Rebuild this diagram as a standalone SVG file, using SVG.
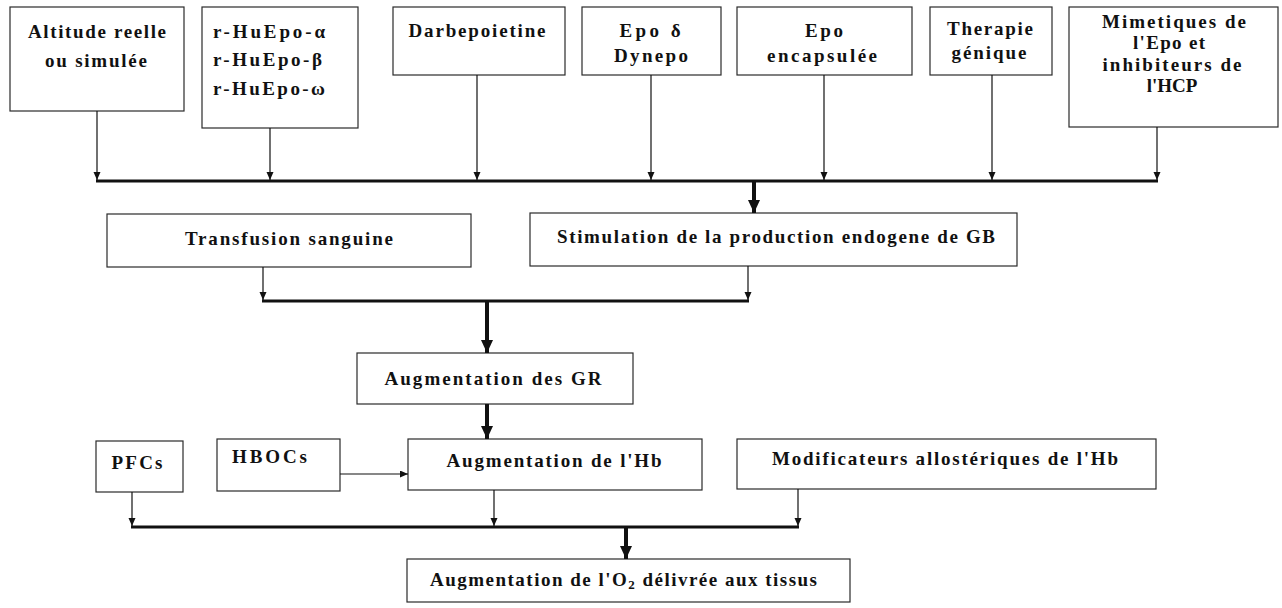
<svg xmlns="http://www.w3.org/2000/svg" width="1282" height="608" viewBox="0 0 1282 608">
  <style>
    .box { fill: #ffffff; stroke: #2a2a2a; stroke-width: 1.2; }
    .lbl { font-family: "Liberation Serif", "Times New Roman", serif; font-size: 19px; font-weight: bold; fill: #111111; }
    .mid { text-anchor: middle; }
    .thin { stroke: #111111; stroke-width: 1.2; fill: none; }
    .bus { stroke: #111111; stroke-width: 3.2; fill: none; }
    .thick { stroke: #111111; stroke-width: 4; fill: none; }
  </style>
  <defs>
    <marker id="headThin" markerUnits="userSpaceOnUse" markerWidth="9" markerHeight="8" refX="8" refY="3.5" orient="auto">
      <path d="M0,0 L8,3.5 L0,7 z" fill="#111111"/>
    </marker>
    <marker id="headThick" markerUnits="userSpaceOnUse" markerWidth="14" markerHeight="14" refX="13" refY="6" orient="auto">
      <path d="M0,0 L13,6 L0,12 z" fill="#111111"/>
    </marker>
  </defs>
  <rect width="1282" height="608" fill="#ffffff"/>

  <!-- upper row of sources -->
  <g id="altitude">
    <rect class="box" x="10" y="7" width="174" height="104"/>
    <text class="lbl mid" x="97" y="38" textLength="138" lengthAdjust="spacing">Altitude reelle</text>
    <text class="lbl mid" x="96" y="67" textLength="102" lengthAdjust="spacing">ou simulée</text>
  </g>
  <g id="rhuepo">
    <rect class="box" x="202" y="7" width="156" height="121"/>
    <text class="lbl" x="213" y="38" textLength="112" lengthAdjust="spacing">r-HuEpo-α</text>
    <text class="lbl" x="213" y="66" textLength="109" lengthAdjust="spacing">r-HuEpo-β</text>
    <text class="lbl" x="213" y="95" textLength="112" lengthAdjust="spacing">r-HuEpo-ω</text>
  </g>
  <g id="darbepoietine">
    <rect class="box" x="393" y="7" width="172" height="68"/>
    <text class="lbl mid" x="477" y="37" textLength="137" lengthAdjust="spacing">Darbepoietine</text>
  </g>
  <g id="dynepo">
    <rect class="box" x="582" y="7" width="139" height="68"/>
    <text class="lbl mid" x="650" y="37" textLength="61" lengthAdjust="spacing">Epo δ</text>
    <text class="lbl mid" x="651" y="62" textLength="74" lengthAdjust="spacing">Dynepo</text>
  </g>
  <g id="epo-encapsulee">
    <rect class="box" x="737" y="7" width="175" height="68"/>
    <text class="lbl mid" x="824" y="37" textLength="38" lengthAdjust="spacing">Epo</text>
    <text class="lbl mid" x="822" y="62" textLength="110" lengthAdjust="spacing">encapsulée</text>
  </g>
  <g id="therapie-genique">
    <rect class="box" x="930" y="7" width="122" height="68"/>
    <text class="lbl mid" x="990" y="35" textLength="86" lengthAdjust="spacing">Therapie</text>
    <text class="lbl mid" x="989" y="59" textLength="75" lengthAdjust="spacing">génique</text>
  </g>
  <g id="mimetiques">
    <rect class="box" x="1069" y="7" width="209" height="120"/>
    <text class="lbl mid" x="1174" y="28" textLength="144" lengthAdjust="spacing">Mimetiques de</text>
    <text class="lbl mid" x="1169" y="49" textLength="72" lengthAdjust="spacing">l'Epo et</text>
    <text class="lbl mid" x="1172" y="71" textLength="139" lengthAdjust="spacing">inhibiteurs de</text>
    <text class="lbl mid" x="1172" y="92">l'HCP</text>
  </g>

  <!-- second row -->
  <g id="transfusion">
    <rect class="box" x="107" y="214" width="364" height="53"/>
    <text class="lbl mid" x="289" y="245" textLength="208" lengthAdjust="spacing">Transfusion sanguine</text>
  </g>
  <g id="stimulation">
    <rect class="box" x="530" y="213" width="487" height="53"/>
    <text class="lbl mid" x="776" y="243" textLength="438" lengthAdjust="spacing">Stimulation de la production endogene de GB</text>
  </g>

  <g id="augmentation-gr">
    <rect class="box" x="357" y="353" width="276" height="51"/>
    <text class="lbl mid" x="493" y="385" textLength="217" lengthAdjust="spacing">Augmentation des GR</text>
  </g>

  <!-- third row -->
  <g id="pfcs">
    <rect class="box" x="96" y="441" width="87" height="51"/>
    <text class="lbl mid" x="137" y="469" textLength="51" lengthAdjust="spacing">PFCs</text>
  </g>
  <g id="hbocs">
    <rect class="box" x="217" y="439" width="123" height="52"/>
    <text class="lbl" x="232" y="463" textLength="75" lengthAdjust="spacing">HBOCs</text>
  </g>
  <g id="augmentation-hb">
    <rect class="box" x="408" y="439" width="294" height="51"/>
    <text class="lbl mid" x="554" y="467" textLength="215" lengthAdjust="spacing">Augmentation de l'Hb</text>
  </g>
  <g id="modificateurs">
    <rect class="box" x="737" y="439" width="419" height="50"/>
    <text class="lbl mid" x="945" y="465" textLength="346" lengthAdjust="spacing">Modificateurs allostériques de l'Hb</text>
  </g>

  <g id="augmentation-o2">
    <rect class="box" x="407" y="559" width="443" height="43"/>
    <text class="lbl" x="430" y="586" textLength="387" lengthAdjust="spacing">Augmentation de l'O<tspan font-size="13" dy="3">2</tspan><tspan dy="-3"> délivrée aux tissus</tspan></text>
  </g>

  <!-- connectors -->
  <g id="connectors">
    <!-- top collector -->
    <line class="bus" x1="96" y1="181" x2="1158" y2="181"/>
    <line class="thin" x1="97" y1="111" x2="97" y2="180" marker-end="url(#headThin)"/>
    <line class="thin" x1="270" y1="128" x2="270" y2="180" marker-end="url(#headThin)"/>
    <line class="thin" x1="477" y1="75" x2="477" y2="180" marker-end="url(#headThin)"/>
    <line class="thin" x1="651" y1="75" x2="651" y2="180" marker-end="url(#headThin)"/>
    <line class="thin" x1="824" y1="75" x2="824" y2="180" marker-end="url(#headThin)"/>
    <line class="thin" x1="992" y1="75" x2="992" y2="180" marker-end="url(#headThin)"/>
    <line class="thin" x1="1157" y1="127" x2="1157" y2="180" marker-end="url(#headThin)"/>
    <line class="thick" x1="754" y1="182" x2="754" y2="213" marker-end="url(#headThick)"/>

    <!-- second collector -->
    <line class="bus" x1="262" y1="301" x2="749" y2="301"/>
    <line class="thin" x1="263" y1="267" x2="263" y2="300" marker-end="url(#headThin)"/>
    <line class="thin" x1="748" y1="266" x2="748" y2="300" marker-end="url(#headThin)"/>
    <line class="thick" x1="487" y1="302" x2="487" y2="353" marker-end="url(#headThick)"/>

    <line class="thick" x1="487" y1="404" x2="487" y2="439" marker-end="url(#headThick)"/>
    <line class="thin" x1="340" y1="474" x2="408" y2="474" marker-end="url(#headThin)"/>

    <!-- bottom collector -->
    <line class="bus" x1="131" y1="527" x2="799" y2="527"/>
    <line class="thin" x1="132" y1="492" x2="132" y2="526" marker-end="url(#headThin)"/>
    <line class="thin" x1="494" y1="490" x2="494" y2="526" marker-end="url(#headThin)"/>
    <line class="thin" x1="798" y1="489" x2="798" y2="526" marker-end="url(#headThin)"/>
    <line class="thick" x1="626" y1="528" x2="626" y2="559" marker-end="url(#headThick)"/>
  </g>
</svg>
